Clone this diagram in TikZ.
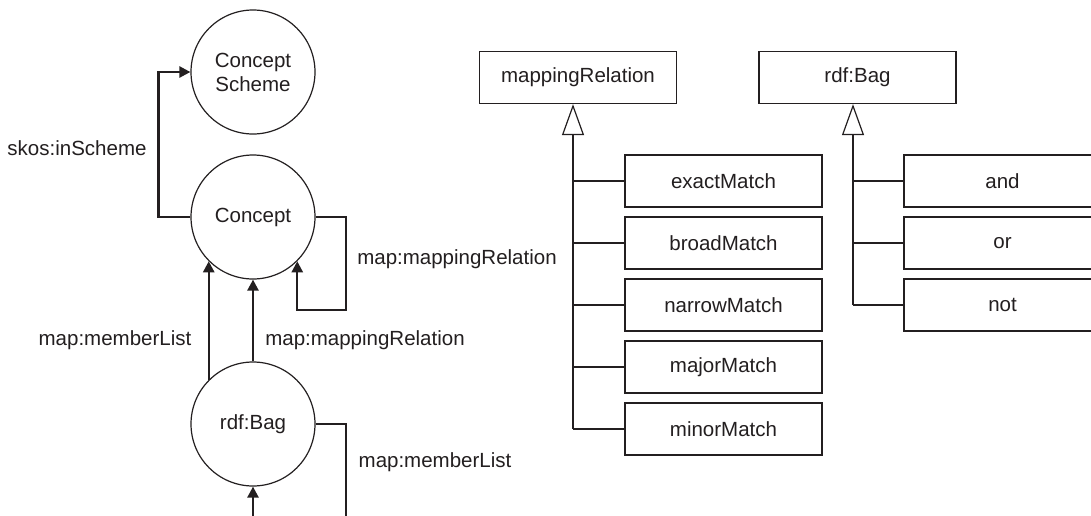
\documentclass[tikz,border=0pt]{standalone}
\usepackage{fontspec}
\setmainfont{Liberation Sans}
\usetikzlibrary{arrows.meta}
\definecolor{ink}{HTML}{231F20}
\begin{document}
\begin{tikzpicture}[x=1pt,y=-1pt,
  font=\fontsize{20.5}{24}\selectfont,
  every node/.style={text=ink},
  circ/.style={circle,draw=ink,line width=1.2pt,minimum size=124pt,inner sep=0pt,align=center},
  cbox/.style={rectangle,draw=ink,line width=1.3pt,minimum width=197pt,minimum height=52pt,inner sep=0pt},
  arr/.style={draw=ink,line width=2.4pt,-{Triangle[length=11pt,width=11pt]}},
  thk/.style={draw=ink,line width=2.4pt},
  tree/.style={draw=ink,line width=1.2pt},
  gen/.style={draw=ink,line width=1.2pt,-{Triangle[open,length=31pt,width=22pt]}},
  lbl/.style={inner sep=0pt}]
\clip (0,0) rectangle (1091,515);
\fill[white] (0,0) rectangle (1091,515);

% circles
\node[circ] (cs) at (253,72) {Concept\\Scheme};
\node[circ] (c) at (253,217) {Concept};
\node[circ] (bag) at (253,424) {rdf:Bag};

% left connectors
\draw[arr] (c.west) -- ++(-32,0) |- (cs.west);
\coordinate (loopA) at (346,310);
\draw[arr] (c.east) -| (loopA) -| (c.-45);
\draw[arr] (bag.135) -- (c.225);
\draw[arr] (bag.north) -- (c.south);
\coordinate (bagout) at (346,525);
\draw[thk] (bag.east) -| (bagout);
\coordinate (bagin) at (253,525);
\draw[arr] (bagin) -- (bag.south);

% labels
\node[lbl] (l1) at (77,148) {skos:inScheme};
\node[lbl] (l2) at (457,259) {map:mappingRelation};
\node[lbl] (l3) at (115,340) {map:memberList};
\node[lbl] (l4) at (365,340) {map:mappingRelation};
\node[lbl] (l5) at (435,462) {map:memberList};

% right: mappingRelation hierarchy
\node[cbox] (mr) at (578,77.5) {mappingRelation};
\node[cbox] (em) at (723.5,181) {exactMatch};
\node[cbox] (bm) at (723.5,243) {broadMatch};
\node[cbox] (nm) at (723.5,305) {narrowMatch};
\node[cbox] (jm) at (723.5,367) {majorMatch};
\node[cbox] (mm) at (723.5,429) {minorMatch};
\coordinate (tA) at (573,429);
\draw[gen] (tA) -- (tA |- mr.south);
\foreach \b in {em,bm,nm,jm,mm} {\draw[tree] (tA |- \b.west) -- (\b.west);}

% right: rdf:Bag hierarchy
\node[cbox] (rb) at (857.5,77.5) {rdf:Bag};
\node[cbox] (an) at (1002.5,181) {and};
\node[cbox] (orr) at (1002.5,243) {or};
\node[cbox] (nt) at (1002.5,305) {not};
\coordinate (tB) at (853,305);
\draw[gen] (tB) -- (tB |- rb.south);
\foreach \b in {an,orr,nt} {\draw[tree] (tB |- \b.west) -- (\b.west);}
\end{tikzpicture}
\end{document}
